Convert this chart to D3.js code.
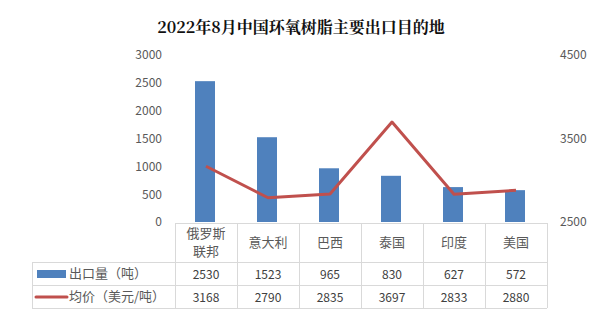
<!DOCTYPE html>
<html><head><meta charset="utf-8">
<script src="https://cdn.jsdelivr.net/npm/d3@7"></script>
<style>body{margin:0;background:#fff}svg{display:block}</style>
</head><body>
<svg id="c" width="608" height="324"></svg>
<script>
const categories = [["俄罗斯","联邦"],["意大利"],["巴西"],["泰国"],["印度"],["美国"]];
const volume = [2530, 1523, 965, 830, 627, 572];
const price = [3168, 2790, 2835, 3697, 2833, 2880];
const leftTicks = [0, 500, 1000, 1500, 2000, 2500, 3000];
const rightTicks = [2500, 3500, 4500];
const seriesNames = ["出口量（吨）", "均价（美元/吨）"];

const svg = d3.select("#c");
const font = "'Noto Sans CJK SC', 'Noto Sans', sans-serif";
const grey = "#595959";
const L = 175, R = 547, T = 55, B = 222;

const x = d3.scaleBand().domain(d3.range(categories.length)).range([L, R]);
const yL = d3.scaleLinear().domain([0, 3000]).range([B, T]);
const yR = d3.scaleLinear().domain([2500, 4500]).range([B, T]);

svg.append("text").attr("x", 301).attr("y", 33).attr("text-anchor", "middle")
  .attr("font-family", "'Noto Serif CJK SC', 'Noto Sans CJK SC', serif").attr("font-weight", "bold")
  .attr("font-size", 16).attr("fill", "#111")
  .text("2022年8月中国环氧树脂主要出口目的地");

// axes (labels only)
const ax = d3.axisLeft(yL).tickValues(leftTicks).tickFormat(d3.format("d")).tickSize(0).tickPadding(0);
const gL = svg.append("g").attr("transform", `translate(${162},0)`).call(ax);
const ar = d3.axisRight(yR).tickValues(rightTicks).tickFormat(d3.format("d")).tickSize(0).tickPadding(0);
const gR = svg.append("g").attr("transform", `translate(${560},0)`).call(ar);
[gL, gR].forEach(g => {
  g.select(".domain").remove();
  g.selectAll("text").attr("font-family", font).attr("font-size", 12).attr("fill", grey);
});

// bars
const bw = 20;
svg.append("g").selectAll("rect").data(volume).join("rect")
  .attr("x", (d, i) => x(i) + x.bandwidth() / 2 - bw / 2 - 1)
  .attr("y", d => yL(d)).attr("width", bw).attr("height", d => B - yL(d))
  .attr("fill", "#4F81BD");

// price line
svg.append("path").datum(price)
  .attr("d", d3.line().x((d, i) => x(i) + x.bandwidth() / 2).y(d => yR(d)))
  .attr("fill", "none").attr("stroke", "#C0504D").attr("stroke-width", 3)
  .attr("stroke-linejoin", "round");

// data table
const lineC = "#d9d9d9";
const rows = [223, 262, 285, 308];
const tbl = svg.append("g").attr("stroke", lineC).attr("stroke-width", 1).attr("fill", "none");
tbl.append("line").attr("x1", L).attr("x2", R).attr("y1", rows[0] + .5).attr("y2", rows[0] + .5);
[1, 2, 3].forEach(r => tbl.append("line").attr("x1", 32).attr("x2", R).attr("y1", rows[r] + .5).attr("y2", rows[r] + .5));
tbl.append("line").attr("x1", 32.5).attr("x2", 32.5).attr("y1", rows[1]).attr("y2", rows[3]);
d3.range(categories.length + 1).forEach(i => {
  const xx = i < categories.length ? x(i) : R;
  tbl.append("line").attr("x1", Math.round(xx) + .5).attr("x2", Math.round(xx) + .5).attr("y1", rows[0]).attr("y2", rows[3]);
});

const cat = svg.append("g").attr("font-family", font).attr("font-size", 13).attr("fill", grey).attr("text-anchor", "middle");
categories.forEach((c, i) => {
  const cx = x(i) + x.bandwidth() / 2;
  const mid = (rows[0] + rows[1]) / 2;
  c.forEach((s, j) => cat.append("text").attr("x", cx)
    .attr("y", mid + (j - (c.length - 1) / 2) * 18).attr("dy", "0.35em").text(s));
});

const vals = svg.append("g").attr("font-family", font).attr("font-size", 12).attr("fill", "#404040").attr("text-anchor", "middle");
[volume, price].forEach((arr, r) => {
  arr.forEach((v, i) => vals.append("text").attr("x", x(i) + x.bandwidth() / 2)
    .attr("y", (rows[r + 1] + rows[r + 2]) / 2 + 1).attr("dy", "0.35em").text(v));
});

// legend keys
svg.append("rect").attr("x", 37).attr("y", 270).attr("width", 29).attr("height", 8).attr("fill", "#4F81BD");
svg.append("line").attr("x1", 36).attr("x2", 67).attr("y1", 297).attr("y2", 297)
  .attr("stroke", "#C0504D").attr("stroke-width", 3).attr("stroke-linecap", "round");
const leg = svg.append("g").attr("font-family", font).attr("font-size", 13).attr("fill", grey);
seriesNames.forEach((s, r) => leg.append("text").attr("x", 69)
  .attr("y", (rows[r + 1] + rows[r + 2]) / 2).attr("dy", "0.35em").text(s));
</script>
</body></html>
